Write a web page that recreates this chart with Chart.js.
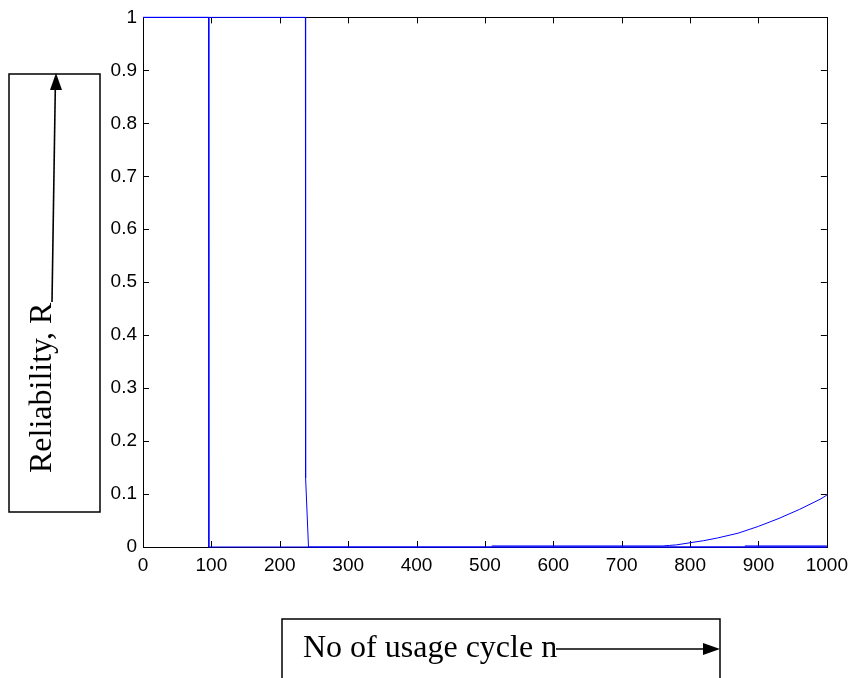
<!DOCTYPE html>
<html><head><meta charset="utf-8">
<script src="https://cdn.jsdelivr.net/npm/chart.js@4.4.0/dist/chart.umd.min.js"></script>
<style>
html,body{margin:0;padding:0;background:#fff;overflow:hidden}
#wrap{position:relative;width:855px;height:678px}
#c{position:absolute;left:0;top:0}
#ann{position:absolute;left:0;top:0;pointer-events:none}
</style>
</head><body>
<div id="wrap">
<canvas id="c" width="855" height="678"></canvas>
<svg id="ann" width="855" height="678" xmlns="http://www.w3.org/2000/svg">
  <rect x="9" y="74" width="91" height="438" fill="none" stroke="#000" stroke-width="1.5"/>
  <text transform="translate(51,473) rotate(-90)" font-family="'Liberation Serif','Times New Roman',serif" font-size="32" fill="#000">Reliability, R</text>
  <line x1="52" y1="302" x2="55.3" y2="88" stroke="#000" stroke-width="1.6"/>
  <polygon points="56,73 50,90 62,90" fill="#000"/>
  <rect x="282" y="619" width="438" height="80" fill="none" stroke="#000" stroke-width="1.5"/>
  <text x="303" y="657" font-family="'Liberation Serif','Times New Roman',serif" font-size="32" fill="#000">No of usage cycle n</text>
  <line x1="556" y1="649" x2="706" y2="649" stroke="#000" stroke-width="1.6"/>
  <polygon points="720,649 703,643 703,655" fill="#000"/>
</svg>
</div>
<script>
// ---- data ----
const xTickValues = [0,100,200,300,400,500,600,700,800,900,1000];
const xTickLabels = ['0','100','200','300','400','500','600','700','800','900','1000'];
const yTickValues = [0,0.1,0.2,0.3,0.4,0.5,0.6,0.7,0.8,0.9,1];
const yTickLabels = ['0','0.1','0.2','0.3','0.4','0.5','0.6','0.7','0.8','0.9','1'];

const seriesA_n = [0, 96, 96.3, 1000];
const seriesA_R = [1, 1, 0, 0];

const seriesB_n = [0, 237.5, 237.8, 242, 1000];
const seriesB_R = [1, 1, 0.13, 0, 0];

const seriesC_n = [510, 760, 770, 780, 800, 820, 840, 870, 900, 930, 960, 990, 1000];
const seriesC_R = [0.002, 0.002, 0.003, 0.004, 0.008, 0.012, 0.017, 0.026, 0.039, 0.054, 0.071, 0.090, 0.098];

const seriesD_n = [880, 1000];
const seriesD_R = [0.002, 0.002];

const toPts = (xs, ys) => xs.map((x, i) => ({x: x, y: ys[i]}));
const mk = (xs, ys) => ({
  data: toPts(xs, ys), borderColor: '#0000ff', borderWidth: 1,
  pointRadius: 0, tension: 0, fill: false, clip: false
});

const boxPlugin = {
  id: 'matlabBox',
  beforeDatasetsDraw(chart) {
    const {ctx, chartArea: a, scales} = chart;
    ctx.save();
    ctx.strokeStyle = '#000';
    ctx.lineWidth = 1;
    ctx.strokeRect(Math.round(a.left) + 0.5, Math.round(a.top) + 0.5,
                   Math.round(a.right - a.left), Math.round(a.bottom - a.top));
    const L = 6;
    ctx.beginPath();
    scales.x.ticks.forEach(t => {
      const p = Math.round(scales.x.getPixelForValue(t.value)) + 0.5;
      ctx.moveTo(p, a.bottom); ctx.lineTo(p, a.bottom - L);
      ctx.moveTo(p, a.top); ctx.lineTo(p, a.top + L);
    });
    scales.y.ticks.forEach(t => {
      const p = Math.round(scales.y.getPixelForValue(t.value)) + 0.5;
      ctx.moveTo(a.left, p); ctx.lineTo(a.left + L, p);
      ctx.moveTo(a.right, p); ctx.lineTo(a.right - L, p);
    });
    ctx.stroke();
    ctx.restore();
  }
};

new Chart(document.getElementById('c'), {
  type: 'line',
  data: { datasets: [
    mk(seriesA_n, seriesA_R),
    mk(seriesB_n, seriesB_R),
    mk(seriesC_n, seriesC_R),
    mk(seriesD_n, seriesD_R)
  ]},
  options: {
    responsive: false,
    animation: false,
    devicePixelRatio: 1,
    layout: { padding: { top: 15, right: 26, left: 0, bottom: 0 } },
    plugins: { legend: { display: false }, tooltip: { enabled: false } },
    scales: {
      x: {
        type: 'linear', min: 0, max: 1000,
        afterBuildTicks: s => { s.ticks = xTickValues.map(v => ({value: v})); },
        afterFit: s => { s.height = 131; },
        grid: { display: false, drawTicks: false },
        border: { display: false },
        ticks: {
          padding: 7, color: '#000', maxRotation: 0, autoSkip: false,
          font: { family: "'Liberation Sans', Arial, sans-serif", size: 19 },
          callback: (v, i) => xTickLabels[i]
        }
      },
      y: {
        type: 'linear', min: 0, max: 1,
        afterBuildTicks: s => { s.ticks = yTickValues.map(v => ({value: v})); },
        afterFit: s => { s.width = 143; },
        grid: { display: false, drawTicks: false },
        border: { display: false },
        ticks: {
          padding: 6, color: '#000', autoSkip: false,
          font: { family: "'Liberation Sans', Arial, sans-serif", size: 19 },
          callback: (v, i) => yTickLabels[i]
        }
      }
    }
  },
  plugins: [boxPlugin]
});
</script>
</body></html>
